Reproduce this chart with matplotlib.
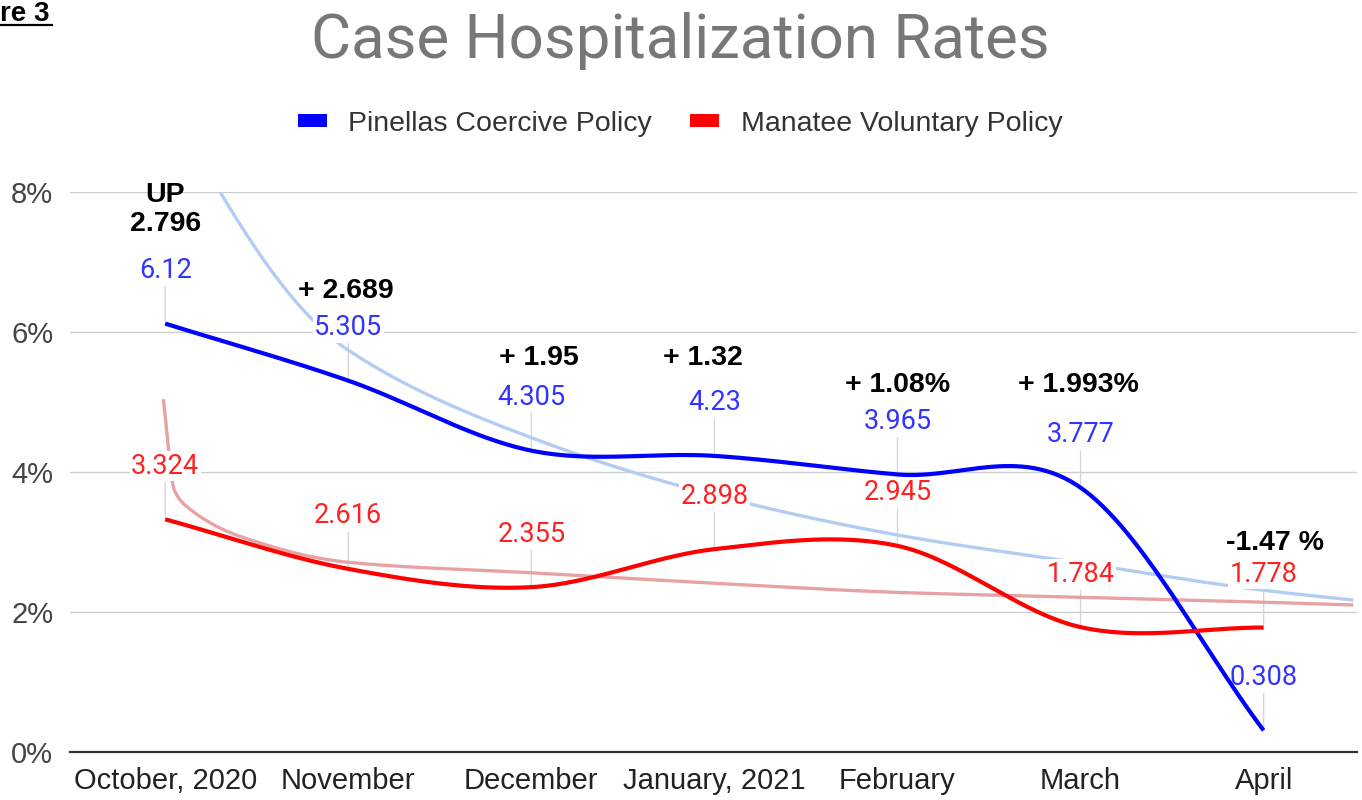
import numpy as np
import matplotlib
matplotlib.use("Agg")
import matplotlib.pyplot as plt
from matplotlib.patches import Patch

# ---------------- data ----------------
months = ["October, 2020", "November", "December", "January, 2021",
          "February", "March", "April"]
pinellas = [6.12, 5.305, 4.305, 4.23, 3.965, 3.777, 0.308]
manatee = [3.324, 2.616, 2.355, 2.898, 2.945, 1.784, 1.778]
pinellas_labels = ["6.12", "5.305", "4.305", "4.23", "3.965", "3.777", "0.308"]
manatee_labels = ["3.324", "2.616", "2.355", "2.898", "2.945", "1.784", "1.778"]

# trendlines (month index, percent)
pin_trend_x = [0.20, 0.30, 0.77, 1.0, 2.0, 3.0, 4.0, 5.0, 6.0, 6.49]
pin_trend_y = [8.5, 8.0, 6.27, 5.74, 4.49, 3.67, 3.10, 2.70, 2.31, 2.17]
man_trend_x = [-0.01, 0.05, 0.14, 0.42, 1.0, 2.0, 3.0, 4.0, 5.0, 6.0, 6.49]
man_trend_y = [5.04, 3.74, 3.46, 3.07, 2.71, 2.56, 2.41, 2.28, 2.21, 2.14, 2.10]

change_texts = ["UP\n2.796", "+ 2.689", "+ 1.95", "+ 1.32",
                "+ 1.08%", "+ 1.993%", "-1.47 %"]
change_pos = [(0.0, 7.757), (0.985, 6.586), (2.04, 5.629), (2.94, 5.629),
              (4.0, 5.243), (4.99, 5.243), (6.06, 2.986)]

yticks = [0, 2, 4, 6, 8]


# ---------------- helpers ----------------
def catmull_rom(y, n=60):
    y = np.asarray(y, float)
    k = len(y)
    m = np.zeros(k)
    m[0] = y[1] - y[0]
    m[-1] = y[-1] - y[-2]
    m[1:-1] = (y[2:] - y[:-2]) / 2.0
    xs, ys = [], []
    for i in range(k - 1):
        t = np.linspace(0, 1, n, endpoint=(i == k - 2))
        h00 = 2 * t**3 - 3 * t**2 + 1
        h10 = t**3 - 2 * t**2 + t
        h01 = -2 * t**3 + 3 * t**2
        h11 = t**3 - t**2
        xs.append(i + t)
        ys.append(h00 * y[i] + h10 * m[i] + h01 * y[i + 1] + h11 * m[i + 1])
    return np.concatenate(xs), np.concatenate(ys)


def pchip(x, y, n=800):
    x = np.asarray(x, float)
    y = np.asarray(y, float)
    h = np.diff(x)
    d = np.diff(y) / h
    m = np.zeros_like(y)
    for i in range(1, len(y) - 1):
        if d[i - 1] * d[i] > 0:
            w1 = 2 * h[i] + h[i - 1]
            w2 = h[i] + 2 * h[i - 1]
            m[i] = (w1 + w2) / (w1 / d[i - 1] + w2 / d[i])
    m[0] = d[0]
    m[-1] = d[-1]
    xs = np.linspace(x[0], x[-1], n)
    idx = np.clip(np.searchsorted(x, xs) - 1, 0, len(x) - 2)
    t = (xs - x[idx]) / h[idx]
    hh = h[idx]
    h00 = 2 * t**3 - 3 * t**2 + 1
    h10 = t**3 - 2 * t**2 + t
    h01 = -2 * t**3 + 3 * t**2
    h11 = t**3 - t**2
    ys = h00 * y[idx] + h10 * hh * m[idx] + h01 * y[idx + 1] + h11 * hh * m[idx + 1]
    return xs, ys


# ---------------- figure ----------------
W, H = 1362, 800
fig = plt.figure(figsize=(W / 100, H / 100), dpi=100)
ax = fig.add_axes([70 / W, 1 - 752 / H, (1357 - 70) / W, (752 - 192) / H])

BLUE = "#0000ff"
RED = "#ff0000"
BLUE_LBL = "#3333ff"
RED_LBL = "#ff2222"
LBLUE = "#b3cdf2"
LRED = "#e7a3a3"

x = np.arange(len(months))

# trendlines
tx, ty = pchip(pin_trend_x, pin_trend_y)
ax.plot(tx, ty, color=LBLUE, lw=2.4, zorder=2, solid_capstyle="butt")
tx, ty = pchip(man_trend_x, man_trend_y)
ax.plot(tx, ty, color=LRED, lw=2.4, zorder=2, solid_capstyle="butt")

# main smooth lines
sx, sy = catmull_rom(pinellas)
ax.plot(sx, sy, color=BLUE, lw=3.0, zorder=4, solid_capstyle="butt",
        label="Pinellas Coercive Policy")
sx, sy = catmull_rom(manatee)
ax.plot(sx, sy, color=RED, lw=3.0, zorder=4, solid_capstyle="butt",
        label="Manatee Voluntary Policy")

# data labels with stems
lbl_font = dict(family=["Roboto", "DejaVu Sans"], fontsize=19.5)
for vals, labels, col in ((pinellas, pinellas_labels, BLUE_LBL),
                          (manatee, manatee_labels, RED_LBL)):
    for i, (v, t) in enumerate(zip(vals, labels)):
        ax.annotate("", xy=(x[i], v), xytext=(0, 37), textcoords="offset pixels",
                    arrowprops=dict(arrowstyle="-", color="#d6d6d6", lw=1,
                                    shrinkA=0, shrinkB=2), zorder=1)
        ax.annotate(t, xy=(x[i], v), xytext=(0, 53), textcoords="offset pixels",
                    ha="center", va="center", color=col, zorder=3,
                    bbox=dict(boxstyle="square,pad=0.05", fc="white", ec="none"),
                    **lbl_font)

# black change annotations
for t, (px, py) in zip(change_texts, change_pos):
    ax.text(px, py, t, ha="center", va="center", fontsize=20.5,
            fontweight="bold", family=["Liberation Sans", "DejaVu Sans"],
            color="black", linespacing=1.15, zorder=7, clip_on=False)

# axes styling
ax.set_xlim(-0.52, 6.51)
ax.set_ylim(0, 8)
ax.set_yticks(yticks)
ax.set_yticklabels([f"{v}%" for v in yticks])
ax.set_xticks(x)
ax.set_xticklabels(months)
for s in ("top", "right", "left"):
    ax.spines[s].set_visible(False)
ax.spines["bottom"].set_color("#333333")
ax.spines["bottom"].set_linewidth(1.6)
ax.spines["bottom"].set_zorder(5)
ax.yaxis.grid(True, color="#cccccc", lw=1)
ax.set_axisbelow(True)
ax.tick_params(axis="both", length=0)
ax.tick_params(axis="y", pad=12, labelsize=21, labelcolor="#444444")
ax.tick_params(axis="x", pad=11, labelsize=21, labelcolor="#222222")
for lab in ax.get_xticklabels() + ax.get_yticklabels():
    lab.set_family(["Liberation Sans", "DejaVu Sans"])

# title
fig.text(680.5 / W, 1 - 58 / H, "Case Hospitalization Rates", ha="center",
         va="baseline", fontsize=44.5, color="#777777",
         family=["Roboto", "DejaVu Sans"])

# legend
handles = [Patch(facecolor=BLUE, edgecolor="none"),
           Patch(facecolor=RED, edgecolor="none")]
leg = fig.legend(handles, ["Pinellas Coercive Policy", "Manatee Voluntary Policy"],
                 loc="center", bbox_to_anchor=(680 / W, 1 - 124 / H), ncol=2,
                 frameon=False, handlelength=1.02, handleheight=0.32,
                 handletextpad=0.75, columnspacing=1.35,
                 prop=dict(family=["Liberation Sans", "DejaVu Sans"], size=20.5))
for t in leg.get_texts():
    t.set_color("#333333")

# cropped figure caption at top-left
fig.text(0.5 / W, 1 - 21 / H, "re 3", ha="left", va="baseline", fontsize=20,
         fontweight="bold", family=["Liberation Sans", "DejaVu Sans"], color="black")
fig.add_artist(plt.Line2D([0, 52 / W], [1 - 24.5 / H, 1 - 24.5 / H],
                          transform=fig.transFigure, color="black", lw=1.6))

fig.savefig("out.png", dpi=100)
